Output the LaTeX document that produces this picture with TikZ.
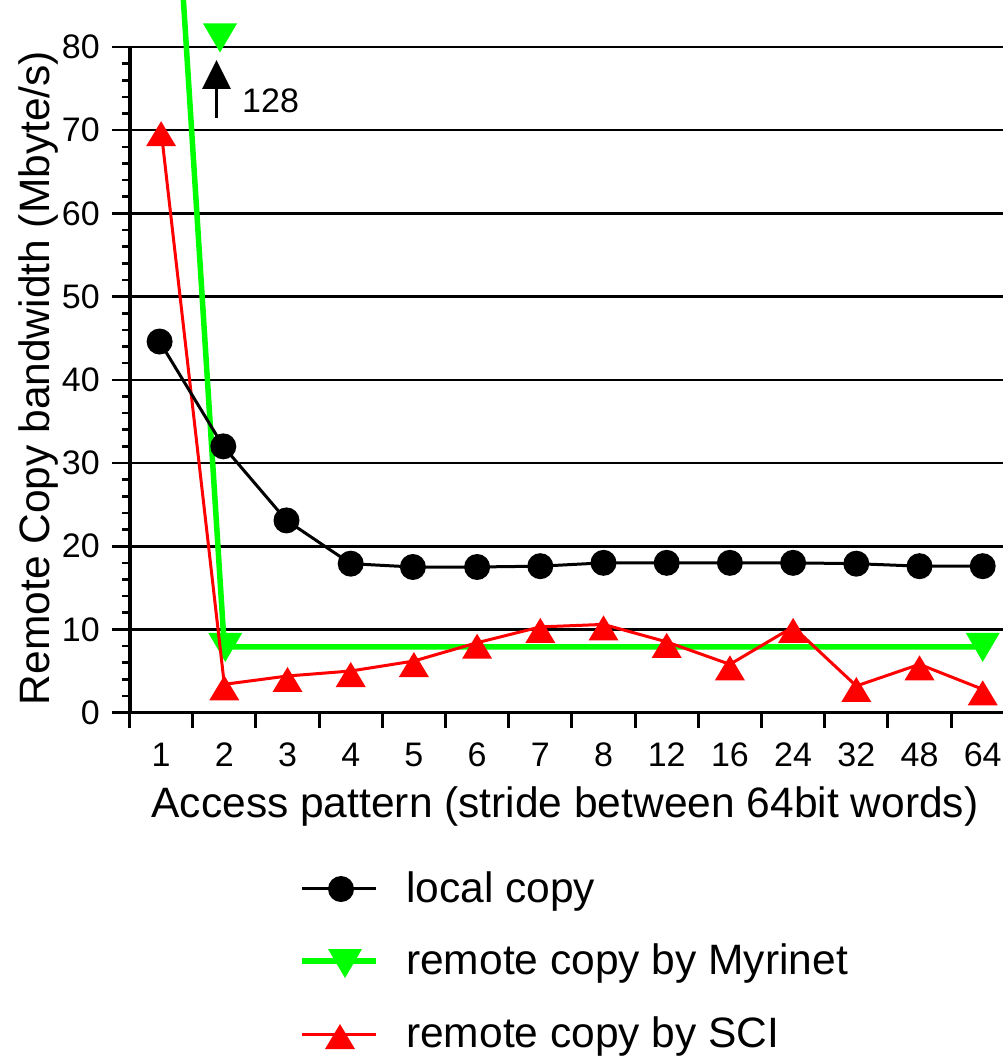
\documentclass[tikz,border=0pt]{standalone}
\usepackage{fontspec}
\setmainfont{Liberation Sans}
\usetikzlibrary{arrows.meta}
\definecolor{green1}{RGB}{0,255,0}
\definecolor{red1}{RGB}{255,0,0}
\begin{document}
\begin{tikzpicture}[x=1pt,y=-1pt,
  declare function={cx(\k)=129.5+63.2*(\k-0.5); vy(\v)=712.6-8.32*\v;},
  gridline/.style={line width=2.6pt,black},
  axisline/.style={line width=3.5pt,black},
  tickline/.style={line width=3pt,black},
  minortick/.style={line width=2.6pt,black},
  blkline/.style={line width=3pt,black,line join=round},
  grnline/.style={line width=5.5pt,green1,line join=miter},
  redline/.style={line width=3pt,red1,line join=round},
  ticklab/.style={font=\fontsize{34}{40}\selectfont,inner sep=0pt},
  titlelab/.style={font=\fontsize{42.5}{50}\selectfont,inner sep=0pt},
  pics/redtri/.style={code={\fill[red1] (0,-9) -- (15,16) -- (-15,16) -- cycle;}},
  pics/grntri/.style={code={\fill[green1] (-17,-14) -- (17,-14) -- (0,15) -- cycle;}},
  pics/blkdot/.style={code={\fill[black] (0,0) circle[radius=13];}},
]
\clip (0,0) rectangle (1003,1056);
\fill[white] (0,0) rectangle (1003,1056);

% grid lines
\foreach \v in {10,20,...,80} {
  \draw[gridline] (112,{vy(\v)}) -- (1003,{vy(\v)});
  \node[ticklab,anchor=east] (yl\v) at (100,{vy(\v)}) {\v};
}
\node[ticklab,anchor=east] (yl0) at (100,{vy(0)}) {0};
% minor ticks
\foreach \v in {2,4,6,8,12,14,16,18,22,24,26,28,32,34,36,38,42,44,46,48,52,54,56,58,62,64,66,68,72,74,76,78}
  \draw[minortick] (122,{vy(\v)}) -- (130,{vy(\v)});
% axes
\draw[axisline] (112,{vy(0)}) -- (1003,{vy(0)});
\draw[axisline] (130,{vy(80)}) -- (130,{vy(0)});
\foreach \k in {0,...,13}
  \draw[tickline] ({129.5+63.2*\k},{vy(0)}) -- ({129.5+63.2*\k},728);
% x tick labels
\foreach \lab [count=\k] in {1,2,3,4,5,6,7,8,12,16,24,32,48,64}
  \node[ticklab,anchor=base] (xl\k) at ({cx(\k)},766) {\lab};

% axis titles
\node[titlelab,anchor=base] (xtitle) at (565,817) {Access pattern (stride between 64bit words)};
\node[titlelab,anchor=base,rotate=90] (ytitle) at (49,378) {Remote Copy bandwidth (Mbyte/s)};

% Myrinet series
\draw[grnline] ({cx(1)},{vy(128)}) -- ({cx(2)},{vy(7.9)}) -- ({cx(14)},{vy(7.9)});
\pic at ({cx(2)+1},{vy(7.9)}) {grntri};
\pic at ({cx(14)},{vy(7.9)}) {grntri};
\pic at (220,37.5) {grntri};
% 128 annotation
\coordinate (arrtail) at (216.5,118);
\coordinate (arrtip) at (216.5,60);
\draw[line width=3pt,-{Triangle[length=29pt,width=28pt]}] (arrtail) -- (arrtip);
\node[ticklab,anchor=base west] (lab128) at (242,113) {128};

% SCI series
\draw[redline] ({cx(1)},{vy(70.0)})
  -- ({cx(2)},{vy(3.4)}) -- ({cx(3)},{vy(4.4)}) -- ({cx(4)},{vy(5.0)})
  -- ({cx(5)},{vy(6.2)}) -- ({cx(6)},{vy(8.4)}) -- ({cx(7)},{vy(10.3)})
  -- ({cx(8)},{vy(10.6)}) -- ({cx(9)},{vy(8.5)}) -- ({cx(10)},{vy(5.8)})
  -- ({cx(11)},{vy(10.3)}) -- ({cx(12)},{vy(3.2)}) -- ({cx(13)},{vy(5.8)})
  -- ({cx(14)},{vy(2.8)});
\foreach \k/\v in {1/70.0,2/3.4,3/4.4,4/5.0,5/6.2,6/8.4,7/10.3,8/10.6,9/8.5,10/5.8,11/10.3,12/3.2,13/5.8,14/2.8}
  \pic at ({cx(\k)},{vy(\v)}) {redtri};

% local copy series
\draw[blkline] ({cx(1)-1.5},{vy(44.6)})
  -- ({cx(2)-1},{vy(32.0)}) -- ({cx(3)-1},{vy(23.1)}) -- ({cx(4)},{vy(17.9)})
  -- ({cx(5)-1},{vy(17.5)}) -- ({cx(6)},{vy(17.5)}) -- ({cx(7)},{vy(17.6)})
  -- ({cx(8)},{vy(18.0)}) -- ({cx(9)},{vy(18.0)}) -- ({cx(10)},{vy(18.0)})
  -- ({cx(11)},{vy(18.0)}) -- ({cx(12)},{vy(17.9)}) -- ({cx(13)},{vy(17.6)})
  -- ({cx(14)},{vy(17.6)});
\foreach \k/\v/\d in {1/44.6/-1.5,2/32.0/-1,3/23.1/-1,4/17.9/0,5/17.5/-1,6/17.5/0,7/17.6/0,8/18.0/0,9/18.0/0,10/18.0/0,11/18.0/0,12/17.9/0,13/17.6/0,14/17.6/0}
  \pic at ({cx(\k)+\d},{vy(\v)}) {blkdot};

% legend
\coordinate (lg1a) at (302,888); \coordinate (lg1b) at (376,888);
\coordinate (lg2a) at (302,961); \coordinate (lg2b) at (376,961);
\coordinate (lg3a) at (302,1034); \coordinate (lg3b) at (376,1034);
\draw[blkline] (lg1a) -- (lg1b);
\pic at (341,889) {blkdot};
\draw[grnline] (lg2a) -- (lg2b);
\pic at (345,963) {grntri};
\draw[redline] (lg3a) -- (lg3b);
\pic at (340,1033) {redtri};
\node[titlelab,anchor=base west] (leg1) at (406,902) {local copy};
\node[titlelab,anchor=base west] (leg2) at (406,974) {remote copy by Myrinet};
\node[titlelab,anchor=base west] (leg3) at (406,1047) {remote copy by SCI};
\end{tikzpicture}
\end{document}
